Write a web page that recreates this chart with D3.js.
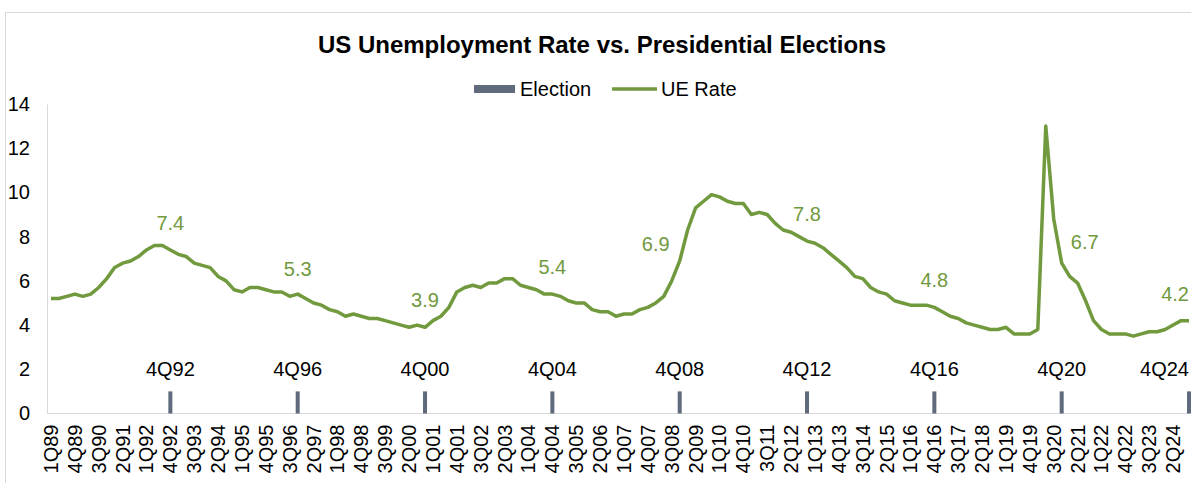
<!DOCTYPE html>
<html>
<head>
<meta charset="utf-8">
<script src="https://cdn.jsdelivr.net/npm/d3@7"></script>
<style>
  body { margin: 0; background: #fff; }
  text { font-family: "Liberation Sans", Arial, sans-serif; }
</style>
</head>
<body>
<script>
const width = 1191;
const height = 483;

// quarters 1Q89 .. 4Q24
const years = d3.range(1989, 2025);
const categories = [];
years.forEach(y => {
	for (let q = 1; q <= 4; q++) categories.push(q + "Q" + String(y).slice(2));
});

// quarterly unemployment rate
const ueRate = [
	5.2, 5.2, 5.3, 5.4,   // 1989
	5.3, 5.4, 5.7, 6.1,   // 1990
	6.6, 6.8, 6.9, 7.1,   // 1991
	7.4, 7.6, 7.6, 7.4,   // 1992
	7.2, 7.1, 6.8, 6.7,   // 1993
	6.6, 6.2, 6.0, 5.6,   // 1994
	5.5, 5.7, 5.7, 5.6,   // 1995
	5.5, 5.5, 5.3, 5.4,   // 1996
	5.2, 5.0, 4.9, 4.7,   // 1997
	4.6, 4.4, 4.5, 4.4,   // 1998
	4.3, 4.3, 4.2, 4.1,   // 1999
	4.0, 3.9, 4.0, 3.9,   // 2000
	4.2, 4.4, 4.8, 5.5,   // 2001
	5.7, 5.8, 5.7, 5.9,   // 2002
	5.9, 6.1, 6.1, 5.8,   // 2003
	5.7, 5.6, 5.4, 5.4,   // 2004
	5.3, 5.1, 5.0, 5.0,   // 2005
	4.7, 4.6, 4.6, 4.4,   // 2006
	4.5, 4.5, 4.7, 4.8,   // 2007
	5.0, 5.3, 6.0, 6.9,   // 2008
	8.3, 9.3, 9.6, 9.9,   // 2009
	9.8, 9.6, 9.5, 9.5,   // 2010
	9.0, 9.1, 9.0, 8.6,   // 2011
	8.3, 8.2, 8.0, 7.8,   // 2012
	7.7, 7.5, 7.2, 6.9,   // 2013
	6.6, 6.2, 6.1, 5.7,   // 2014
	5.5, 5.4, 5.1, 5.0,   // 2015
	4.9, 4.9, 4.9, 4.8,   // 2016
	4.6, 4.4, 4.3, 4.1,   // 2017
	4.0, 3.9, 3.8, 3.8,   // 2018
	3.9, 3.6, 3.6, 3.6,   // 2019
	3.8, 13.0, 8.8, 6.8,  // 2020
	6.2, 5.9, 5.1, 4.2,   // 2021
	3.8, 3.6, 3.6, 3.6,   // 2022
	3.5, 3.6, 3.7, 3.7,   // 2023
	3.8, 4.0, 4.2, 4.2    // 2024
];

// election quarters, bar height and the labelled rate
const electionQuarters = ["4Q92", "4Q96", "4Q00", "4Q04", "4Q08", "4Q12", "4Q16", "4Q20", "4Q24"];
const electionBar = [1, 1, 1, 1, 1, 1, 1, 1, 1];
const electionUE = [7.4, 5.3, 3.9, 5.4, 6.9, 7.8, 4.8, 6.7, 4.2];

const yTicks = [0, 2, 4, 6, 8, 10, 12, 14];
const xTickLabels = categories.filter((d, i) => i % 3 === 0);

const green = "#71993d";
const slate = "#5f6b7d";

const svg = d3.select("body").append("svg")
	.attr("width", width)
	.attr("height", height);

svg.append("rect").attr("width", width).attr("height", height).attr("fill", "#fff");

// chart border (clipped on right and bottom)
svg.append("rect")
	.attr("x", 5.5).attr("y", 12.5)
	.attr("width", 1300).attr("height", 600)
	.attr("fill", "none").attr("stroke", "#d9d9d9");

const x = d3.scaleBand().domain(categories).range([47, 1193]).padding(0);
const y = d3.scaleLinear().domain([0, 14]).range([413.5, 104]);
const cx = d => x(d) + x.bandwidth() / 2;

// title
svg.append("text")
	.attr("x", 602).attr("y", 53)
	.attr("text-anchor", "middle")
	.attr("font-size", 24).attr("font-weight", "bold")
	.attr("fill", "#000")
	.text("US Unemployment Rate vs. Presidential Elections");

// legend
const legend = svg.append("g").attr("font-size", 20).attr("fill", "#000");
legend.append("rect").attr("x", 474).attr("y", 85).attr("width", 41).attr("height", 8).attr("fill", slate);
legend.append("text").attr("x", 520).attr("y", 96).text("Election");
legend.append("line").attr("x1", 612).attr("x2", 657).attr("y1", 89).attr("y2", 89)
	.attr("stroke", green).attr("stroke-width", 3.5);
legend.append("text").attr("x", 661).attr("y", 96).text("UE Rate");

// y axis
const yAxis = svg.append("g")
	.attr("transform", "translate(47,0)")
	.call(d3.axisLeft(y).tickValues(yTicks).tickSize(0).tickPadding(17));
yAxis.select(".domain").attr("stroke", "#d9d9d9");
yAxis.selectAll("text").attr("font-size", 20).attr("fill", "#000")
	.attr("font-family", "Liberation Sans, Arial, sans-serif");

// x axis
const xAxis = svg.append("g")
	.attr("transform", "translate(0," + y(0) + ")")
	.call(d3.axisBottom(x).tickValues(xTickLabels).tickSize(0).tickPadding(0));
xAxis.select(".domain").attr("stroke", "#d9d9d9").attr("d", "M47,0H1193");
xAxis.selectAll("text")
	.attr("font-size", 20).attr("fill", "#000")
	.attr("font-family", "Liberation Sans, Arial, sans-serif")
	.attr("text-anchor", "end")
	.attr("transform", "translate(0,11) rotate(-90)")
	.attr("x", 0).attr("y", 0).attr("dy", "0.35em");

// election bars
const barW = 4;
svg.append("g").selectAll("rect")
	.data(electionQuarters)
	.join("rect")
	.attr("x", d => cx(d) - barW / 2)
	.attr("y", (d, i) => y(electionBar[i]))
	.attr("width", barW)
	.attr("height", (d, i) => y(0) - y(electionBar[i]))
	.attr("fill", slate);

// election quarter labels above bars, kept inside the picture
const rightEdge = 1189;
svg.append("g").selectAll("text")
	.data(electionQuarters)
	.join("text")
	.attr("font-size", 20).attr("fill", "#000")
	.attr("text-anchor", "middle")
	.attr("y", y(2) + 7)
	.text(d => d)
	.attr("x", function (d) {
		const w = this.getComputedTextLength();
		return Math.min(cx(d), rightEdge - w / 2);
	});

// UE rate line
const line = d3.line()
	.x((d, i) => cx(categories[i]))
	.y(d => y(d));

svg.append("path")
	.datum(ueRate)
	.attr("fill", "none")
	.attr("stroke", green)
	.attr("stroke-width", 3.5)
	.attr("stroke-linejoin", "round")
	.attr("d", line);

// rate labels at election quarters
const labelNudge = { "4Q08": [-24, 10], "4Q20": [23, 4] };
svg.append("g").selectAll("text")
	.data(electionQuarters)
	.join("text")
	.attr("font-size", 20).attr("fill", green)
	.attr("text-anchor", "middle")
	.attr("y", (d, i) => y(electionUE[i]) - 20 + (labelNudge[d] ? labelNudge[d][1] : 0))
	.text((d, i) => electionUE[i].toFixed(1))
	.attr("x", function (d) {
		const w = this.getComputedTextLength();
		const nx = cx(d) + (labelNudge[d] ? labelNudge[d][0] : 0);
		return Math.min(nx, rightEdge - w / 2);
	});
</script>
</body>
</html>
